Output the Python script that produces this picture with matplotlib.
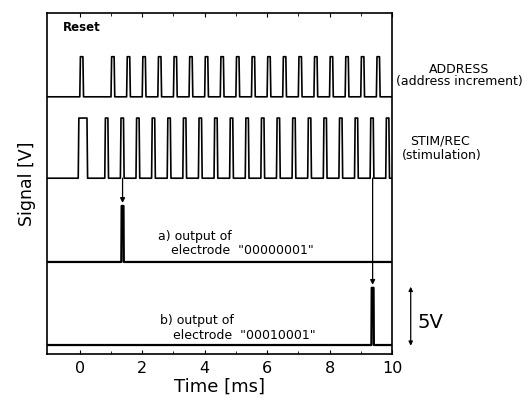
import numpy as np
import matplotlib
matplotlib.use("Agg")
import matplotlib.pyplot as plt

plt.rcParams['font.family'] = ['DejaVu Sans']

# ---- data (times in ms, amplitudes in V) ----
address_starts = [0.0] + [1.0 + 0.5 * k for k in range(18)]
address_width = 0.12
address_amp = 3.4
address_base = 21.8

stim_starts = [-0.05] + [0.8 + 0.5 * k for k in range(19)]
stim_widths = [0.30] + [0.12] * 19
stim_amp = 5.1
stim_base = 14.9

out_a_start = 1.33
out_a_width = 0.08
out_a_amp = 4.75
out_a_base = 7.8

out_b_start = 9.34
out_b_width = 0.08
out_b_amp = 4.85
out_b_base = 0.76

t_min, t_max = -1.05, 10.0
xticks = [0, 2, 4, 6, 8, 10]


def pulse_train(starts, widths, amp, base, edge=0.02):
    t = [t_min]
    v = [base]
    for s, w in zip(starts, widths):
        t += [s, s + edge, s + w - edge, s + w]
        v += [base, base + amp, base + amp, base]
    t.append(t_max)
    v.append(base)
    return np.array(t), np.array(v)


fig = plt.figure(figsize=(5.30, 4.08), dpi=100)
ax = fig.add_axes([0.0887, 0.1324, 0.6509, 0.8356])

lw = 1.2
t, v = pulse_train(address_starts, [address_width] * len(address_starts), address_amp, address_base)
ax.plot(t, v, color='black', lw=lw)
t, v = pulse_train(stim_starts, stim_widths, stim_amp, stim_base)
ax.plot(t, v, color='black', lw=lw)
t, v = pulse_train([out_a_start], [out_a_width], out_a_amp, out_a_base, edge=0.01)
ax.plot(t, v, color='black', lw=1.6)
t, v = pulse_train([out_b_start], [out_b_width], out_b_amp, out_b_base, edge=0.01)
ax.plot(t, v, color='black', lw=1.6)

# arrows linking stimulation pulses to electrode outputs
ax.annotate('', xy=(out_a_start + out_a_width / 2, out_a_base + out_a_amp + 0.25),
            xytext=(out_a_start + out_a_width / 2, stim_base),
            arrowprops=dict(arrowstyle='-|>', color='black', lw=0.9, mutation_scale=7,
                            shrinkA=0, shrinkB=0))
ax.annotate('', xy=(out_b_start + out_b_width / 2, out_b_base + out_b_amp + 0.25),
            xytext=(out_b_start + out_b_width / 2, stim_base),
            arrowprops=dict(arrowstyle='-|>', color='black', lw=0.9, mutation_scale=7,
                            shrinkA=0, shrinkB=0))

ax.set_xlim(t_min, t_max)
ax.set_ylim(0, 28.9)
ax.set_xticks(xticks)
ax.set_xticks([1, 3, 5, 7, 9], minor=True)
ax.set_yticks([])
ax.tick_params(axis='x', which='both', direction='in', top=True, labelsize=11.5, length=3, pad=5)
ax.tick_params(axis='x', which='minor', length=2)
for s in ax.spines.values():
    s.set_linewidth(1.2)

ax.set_xlabel('Time [ms]', fontsize=13, labelpad=1)
ax.set_ylabel('Signal [V]', fontsize=12.5, labelpad=8)

fs = 9
ax.text(-0.55, 27.7, 'Reset', fontsize=8.5, fontweight='bold', va='center', ha='left')
ax.text(12.15, 24.1, 'ADDRESS', fontsize=fs, va='center', ha='center', clip_on=False)
ax.text(12.15, 23.1, '(address increment)', fontsize=fs, va='center', ha='center', clip_on=False)
ax.text(11.55, 18.05, 'STIM/REC', fontsize=fs, va='center', ha='center', clip_on=False)
ax.text(11.6, 16.85, '(stimulation)', fontsize=fs, va='center', ha='center', clip_on=False)
ax.text(2.5, 10.0, 'a) output of', fontsize=fs, va='center', ha='left')
ax.text(2.92, 8.75, 'electrode  "00000001"', fontsize=fs, va='center', ha='left')
ax.text(2.56, 2.85, 'b) output of', fontsize=fs, va='center', ha='left')
ax.text(2.98, 1.6, 'electrode  "00010001"', fontsize=fs, va='center', ha='left')

# 5 V scale bar
ax.annotate('', xy=(10.6, 0.7), xytext=(10.6, 5.7), annotation_clip=False,
            arrowprops=dict(arrowstyle='<|-|>', color='black', lw=0.9, mutation_scale=6,
                            shrinkA=0, shrinkB=0))
ax.text(10.82, 2.65, '5V', fontsize=14, va='center', ha='left', clip_on=False)

fig.savefig('out.png', dpi=100)
